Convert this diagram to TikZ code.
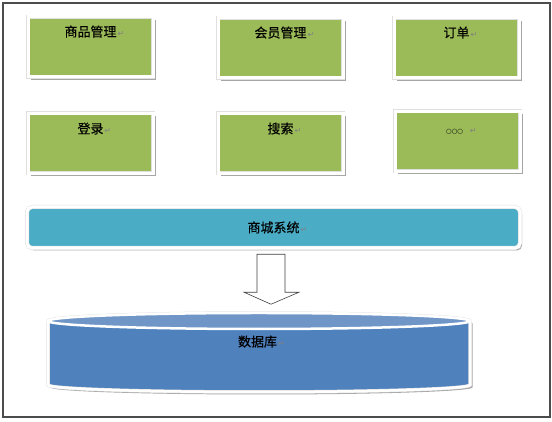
\documentclass[tikz,border=0pt]{standalone}
\usepackage{fontspec}
\setmainfont{Noto Sans CJK SC}[FakeBold=0.3]
\newfontfamily\symfont{DejaVu Sans}
\usepackage{xcolor}
\usetikzlibrary{shadows,calc}
\definecolor{modgreen}{HTML}{9BBB59}
\definecolor{systeal}{HTML}{4BACC6}
\definecolor{dbblue}{HTML}{4F81BD}
\definecolor{dbtop}{HTML}{7096C8}
\newcommand{\retmark}{\rlap{\hspace{1pt}\color{black!50}\symfont\fontsize{8}{8}\selectfont ↵}}

\begin{document}
\begin{tikzpicture}[x=1pt,y=1pt,
module/.style={fill=modgreen,draw=black!12,line width=0.5pt,double=white,double distance=3pt,
  minimum width=125pt,minimum height=60pt,inner sep=0pt,
  drop shadow={shadow xshift=2.8pt,shadow yshift=-2.8pt,fill=black!35,opacity=1}},
modtext/.style={font=\fontsize{13}{15}\selectfont,text height=10pt,text depth=3pt,inner sep=0pt},
sysbar/.style={fill=systeal,draw=black!12,line width=0.5pt,double=white,double distance=3pt,rounded corners=5pt,
  minimum width=493pt,minimum height=41pt,
  drop shadow={shadow xshift=2pt,shadow yshift=-2.5pt,fill=black!35,opacity=1},font=\fontsize{13}{15}\selectfont}
]
\useasboundingbox (0,0) rectangle (552,422);
\draw[black!70,line width=1.3pt] (3,5) rectangle (550,419);

\node[module] (m1) at (90.5,375) {};
\node[module] (m2) at (280.5,374) {};
\node[module] (m3) at (456.5,374) {};
\node[module] (m4) at (90.5,278.5) {};
\node[module] (m5) at (280.5,278.5) {};
\node[module] (m6) at (457.5,280.5) {};

\node[modtext] (t1) at ([yshift=14pt]m1.center) {商品管理\retmark};
\node[modtext] (t2) at ([yshift=14pt]m2.center) {会员管理\retmark};
\node[modtext] (t3) at ([yshift=14pt]m3.center) {订单\retmark};
\node[modtext] (t4) at ([yshift=13.5pt]m4.center) {登录\retmark};
\node[modtext] (t5) at ([yshift=13.5pt]m5.center) {搜索\retmark};
\node[modtext] (t6) at ([yshift=11.5pt]m6.center) {{\symfont\fontsize{6.5}{7}\selectfont ○○○}\ \ \retmark};

\node[sysbar] (bar) at (273.5,194.5) {商城系统\retmark};

\fill[black!35] (50.5,98.5) arc[start angle=180,end angle=0,x radius=211,y radius=8]
  -- (472.5,34.5) arc[start angle=0,end angle=-180,x radius=211,y radius=7] -- cycle;
\filldraw[fill=dbblue,draw=black!12,line width=0.5pt,double=white,double distance=2.5pt] (48,101) arc[start angle=180,end angle=0,x radius=211,y radius=8]
  -- (470,37) arc[start angle=0,end angle=-180,x radius=211,y radius=7] -- cycle;
\filldraw[fill=dbtop,draw=white,line width=2.5pt] (259,101) ellipse[x radius=211,y radius=8];
\node[modtext] (db) at (257.5,79) {数据库\retmark};

\coordinate (arrtop) at ($(bar.south)+(-2.5,-6)$);
\filldraw[fill=white,draw=black!75,line width=0.6pt] (arrtop) ++(-14,0) -- ++(28,0) -- ++(0,-38) -- ++(14,0)
  -- ++(-28,-12) -- ++(-27,12) -- ++(13,0) -- cycle;
\end{tikzpicture}
\end{document}
